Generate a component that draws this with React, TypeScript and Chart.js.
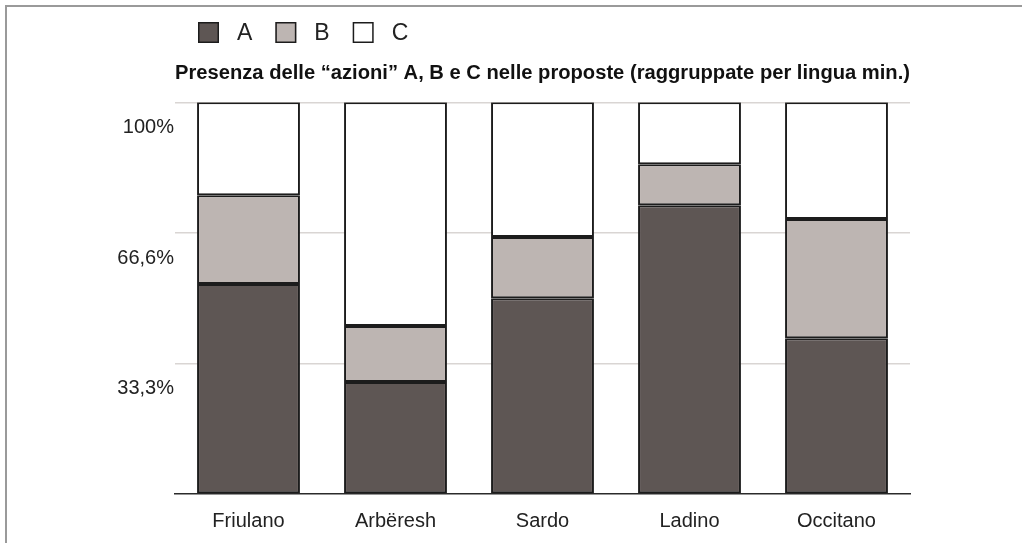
import React, { useEffect, useRef } from "react";
import { Chart, registerables } from "chart.js";

Chart.register(...registerables);

const CATEGORIES = ["Friulano", "Arbëresh", "Sardo", "Ladino", "Occitano"];
const SERIES_A = [53.6, 28.6, 50.0, 73.7, 39.8];
const SERIES_B = [22.7, 14.3, 15.6, 10.5, 30.4];
const SERIES_C = [23.7, 57.1, 34.4, 15.8, 29.8];
const SERIES_LABELS = ["A", "B", "C"];
const TICK_VALUES = [0, 33.3, 66.6, 100];
const TICK_LABELS = ["", "33,3%", "66,6%", "100%"];
const TITLE = "Presenza delle \u201Cazioni\u201D A, B e C nelle proposte (raggruppate per lingua min.)";

const FONT = "'Liberation Sans', Arial, Helvetica, sans-serif";
const TEXT = "#222222";
const EDGE = "#1c1c1c";
const COLORS = ["#5e5654", "#bdb5b2", "#ffffff"];

const legendPlugin = {
  id: "customLegend",
  afterDraw(chart: any) {
    const ctx = chart.ctx;
    ctx.save();
    let x = 198;
    const top = 22;
    const size = 21;
    ctx.font = `23px ${FONT}`;
    ctx.textBaseline = "middle";
    ctx.textAlign = "left";
    chart.data.datasets.forEach((ds: any) => {
      ctx.fillStyle = ds.backgroundColor;
      ctx.fillRect(x, top, size, size);
      ctx.strokeStyle = EDGE;
      ctx.lineWidth = 1.5;
      ctx.strokeRect(x + 0.75, top + 0.75, size - 1.5, size - 1.5);
      ctx.fillStyle = TEXT;
      const tx = x + 39;
      ctx.fillText(ds.label, tx, top + size / 2 + 1);
      x = tx + ctx.measureText(ds.label).width + 23;
    });
    ctx.restore();
  },
};

export default function App() {
  const ref = useRef<HTMLCanvasElement | null>(null);

  useEffect(() => {
    if (!ref.current) return;
    const series = [SERIES_A, SERIES_B, SERIES_C];
    const chart = new Chart(ref.current, {
      type: "bar",
      data: {
        labels: CATEGORIES,
        datasets: series.map((d, i) => ({
          label: SERIES_LABELS[i],
          data: d,
          backgroundColor: COLORS[i],
          borderColor: EDGE,
          borderWidth: 2,
          borderSkipped: false,
          categoryPercentage: 1,
          barPercentage: 0.7,
        })),
      },
      options: {
        animation: false,
        responsive: false,
        maintainAspectRatio: false,
        layout: { padding: { top: 50, right: 112, bottom: 0, left: 0 } },
        plugins: {
          legend: { display: false },
          tooltip: { enabled: false },
          title: {
            display: true,
            text: TITLE,
            fullSize: false,
            color: "#111111",
            font: { family: FONT, size: 20.3, weight: "bold", lineHeight: 1.2 },
            padding: { top: 11, bottom: 17 },
          },
        },
        scales: {
          x: {
            stacked: true,
            grid: { display: false, drawTicks: false },
            border: { display: true, color: "#2b2b2b", width: 1.5 },
            ticks: { font: { family: FONT, size: 20 }, color: TEXT, padding: 15 },
            afterFit: (s: any) => {
              s.height = 49;
            },
          },
          y: {
            stacked: true,
            min: 0,
            max: 100,
            afterBuildTicks: (s: any) => {
              s.ticks = TICK_VALUES.map((v) => ({ value: v }));
            },
            ticks: {
              callback: (_v: any, i: number) => TICK_LABELS[i],
              labelOffset: 25,
              padding: 1,
              font: { family: FONT, size: 20 },
              color: TEXT,
            },
            grid: {
              color: (c: any) => (c.tick && c.tick.value === 0 ? "rgba(0,0,0,0)" : "#d9d5d3"),
              lineWidth: 1.5,
              drawTicks: false,
            },
            border: { display: false },
            afterFit: (s: any) => {
              s.width = 175;
            },
          },
        },
      } as any,
      plugins: [legendPlugin],
    });
    return () => chart.destroy();
  }, []);

  return (
    <div style={{ position: "fixed", left: 0, top: 0, width: 1022, height: 543, background: "#fff", overflow: "hidden" }}>
      <div
        style={{
          position: "absolute",
          left: 5,
          top: 5,
          width: 1100,
          height: 600,
          borderTop: "2px solid #9a9a9a",
          borderLeft: "2px solid #9a9a9a",
        }}
      />
      <canvas ref={ref} width={1022} height={543} style={{ position: "absolute", left: 0, top: 0, width: 1022, height: 543 }} />
    </div>
  );
}
